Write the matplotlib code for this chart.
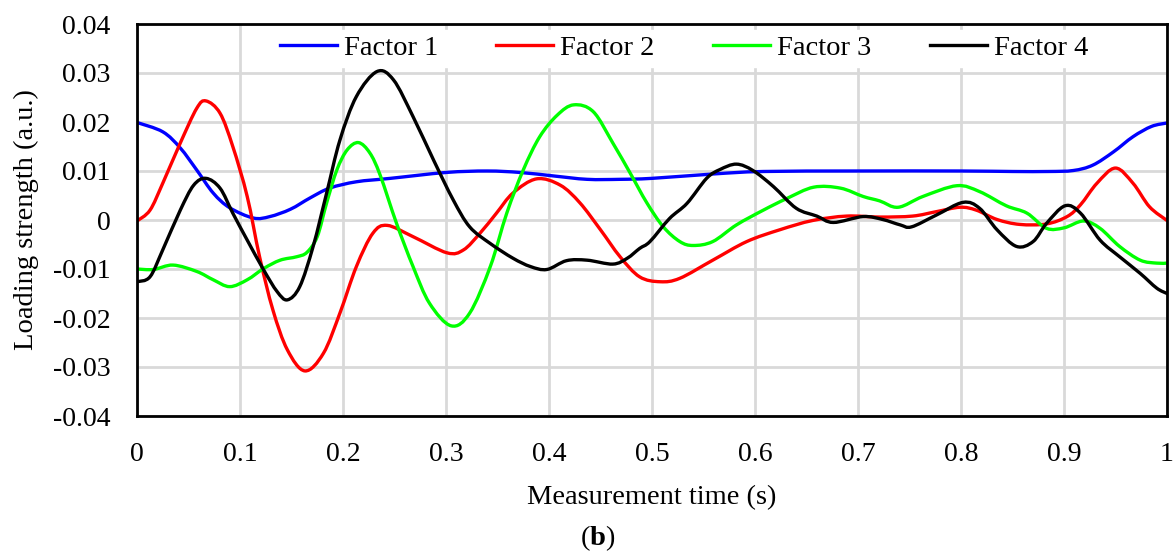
import matplotlib
matplotlib.use("Agg")
import matplotlib.pyplot as plt
from matplotlib.path import Path
from matplotlib.patches import PathPatch
from matplotlib.lines import Line2D
import numpy as np

plt.rcParams['font.family'] = ['Liberation Serif', 'DejaVu Serif']
plt.rcParams['mathtext.fontset'] = 'custom'
plt.rcParams['mathtext.rm'] = 'Liberation Serif'
plt.rcParams['mathtext.bf'] = 'Liberation Serif:bold'

# Factor 1 (blue)
x1 = [0.0, 0.025, 0.042, 0.058, 0.074, 0.090, 0.113, 0.129, 0.149, 0.168, 0.187, 0.213, 0.246,
      0.30, 0.34, 0.372, 0.404, 0.437, 0.469, 0.50, 0.56, 0.608, 0.70, 0.80, 0.85, 0.885, 0.909,
      0.928, 0.948, 0.967, 0.985, 1.0]
y1 = [0.0199, 0.0180, 0.0147, 0.0102, 0.0055, 0.0025, 0.0004, 0.0007, 0.0022, 0.0045, 0.0065,
      0.0078, 0.0085, 0.0097, 0.0100, 0.0097, 0.0090, 0.0083, 0.0083, 0.0085, 0.0094, 0.0099,
      0.0100, 0.0100, 0.0099, 0.0099, 0.0101, 0.0112, 0.0139, 0.0170, 0.0191, 0.0198]

# Factor 2 (red)
x2 = [0.0, 0.0126, 0.025, 0.042, 0.058, 0.067, 0.0806, 0.093, 0.107, 0.119, 0.132, 0.146, 0.163,
      0.181, 0.197, 0.213, 0.229, 0.243, 0.268, 0.301, 0.317, 0.333, 0.349, 0.365, 0.388, 0.411,
      0.430, 0.45, 0.469, 0.488, 0.508, 0.527, 0.559, 0.592, 0.624, 0.656, 0.689, 0.721, 0.753,
      0.776, 0.799, 0.815, 0.835, 0.857, 0.883, 0.903, 0.916, 0.932, 0.95, 0.967, 0.983, 1.0]
y2 = [-0.0002, 0.0020, 0.0075, 0.0157, 0.0228, 0.0243, 0.0218, 0.0150, 0.0048, -0.0075, -0.0184,
      -0.0265, -0.0308, -0.0272, -0.0190, -0.0095, -0.0027, -0.0011, -0.0034, -0.0067, -0.0061,
      -0.0027, 0.0014, 0.0055, 0.0084, 0.0071, 0.0035, -0.0020, -0.0075, -0.0116, -0.0126,
      -0.0119, -0.0082, -0.0044, -0.0020, -0.0001, 0.0008, 0.0006, 0.0008, 0.0017, 0.0026,
      0.0020, 0.0001, -0.0009, -0.0008, 0.0007, 0.0031, 0.0075, 0.0106, 0.0075, 0.0027, -0.0001]

# Factor 3 (green)
x3 = [0.0, 0.016, 0.035, 0.058, 0.074, 0.090, 0.107, 0.123, 0.139, 0.155, 0.165, 0.175, 0.184,
      0.194, 0.204, 0.215, 0.226, 0.236, 0.252, 0.268, 0.284, 0.305, 0.323, 0.343, 0.359, 0.375,
      0.391, 0.408, 0.424, 0.443, 0.462, 0.479, 0.495, 0.511, 0.527, 0.54, 0.559, 0.582, 0.608,
      0.631, 0.657, 0.683, 0.705, 0.721, 0.739, 0.763, 0.796, 0.818, 0.844, 0.864, 0.883, 0.90,
      0.919, 0.935, 0.954, 0.974, 0.99, 1.0]
y3 = [-0.0100, -0.0101, -0.0092, -0.0105, -0.0122, -0.0136, -0.0122, -0.0099, -0.0082, -0.0075,
      -0.0066, -0.0034, 0.0034, 0.0102, 0.0143, 0.0158, 0.0137, 0.0092, -0.0007, -0.0095,
      -0.0170, -0.0216, -0.0190, -0.0095, 0.0014, 0.0102, 0.0170, 0.0214, 0.0235, 0.0221,
      0.0157, 0.0095, 0.0035, -0.0014, -0.0044, -0.0052, -0.0044, -0.0010, 0.0020, 0.0044,
      0.0067, 0.0065, 0.0048, 0.0039, 0.0026, 0.0048, 0.0070, 0.0058, 0.0029, 0.0014, -0.0017,
      -0.0016, -0.0002, -0.0017, -0.0054, -0.0082, -0.0088, -0.0088]

# Factor 4 (black)
x4 = [0.0, 0.0126, 0.025, 0.042, 0.055, 0.067, 0.0806, 0.093, 0.107, 0.123, 0.136, 0.146, 0.158,
      0.171, 0.184, 0.197, 0.213, 0.233, 0.249, 0.268, 0.288, 0.307, 0.323, 0.343, 0.365, 0.382,
      0.398, 0.417, 0.437, 0.462, 0.476, 0.488, 0.498, 0.517, 0.534, 0.553, 0.566, 0.582, 0.598,
      0.618, 0.64, 0.66, 0.676, 0.705, 0.724, 0.741, 0.752, 0.776, 0.802, 0.818, 0.835, 0.854,
      0.87, 0.883, 0.901, 0.916, 0.935, 0.954, 0.974, 0.99, 1.0]
y4 = [-0.0126, -0.0116, -0.0061, 0.0020, 0.0071, 0.0085, 0.0065, 0.0014, -0.0041, -0.0102,
      -0.0146, -0.0163, -0.0136, -0.0054, 0.0054, 0.0163, 0.0252, 0.0303, 0.0286, 0.0211,
      0.0122, 0.0041, -0.0014, -0.0048, -0.0078, -0.0095, -0.0101, -0.0083, -0.0082, -0.0090,
      -0.0078, -0.0058, -0.0044, 0.0003, 0.0034, 0.0085, 0.0103, 0.0114, 0.0101, 0.0068, 0.0024,
      0.0008, -0.0005, 0.0007, 0.0001, -0.0010, -0.0014, 0.0010, 0.0036, 0.0024, -0.0020,
      -0.0054, -0.0044, -0.0007, 0.0029, 0.0014, -0.0041, -0.0075, -0.0109, -0.0139, -0.0150]

labels = ['Factor 1', 'Factor 2', 'Factor 3', 'Factor 4']
colors = ['#0000ff', '#ff0000', '#00ff00', '#000000']

xticks = [0, 0.1, 0.2, 0.3, 0.4, 0.5, 0.6, 0.7, 0.8, 0.9, 1.0]
xticklabels = ['0', '0.1', '0.2', '0.3', '0.4', '0.5', '0.6', '0.7', '0.8', '0.9', '1']
yticks = [-0.04, -0.03, -0.02, -0.01, 0, 0.01, 0.02, 0.03, 0.04]
yticklabels = ['-0.04', '-0.03', '-0.02', '-0.01', '0', '0.01', '0.02', '0.03', '0.04']


def smooth_path(xs, ys):
    """Excel-style smoothed line: cubic Bezier segments through the data points."""
    p = np.column_stack([xs, ys]).astype(float)
    n = len(p)
    verts = [p[0]]
    codes = [Path.MOVETO]
    for i in range(n - 1):
        p0 = p[i - 1] if i > 0 else p[i]
        p1 = p[i]
        p2 = p[i + 1]
        p3 = p[i + 2] if i + 2 < n else p[i + 1]
        c1 = p1 + (p2 - p0) / 6.0
        c2 = p2 - (p3 - p1) / 6.0
        verts += [c1, c2, p2]
        codes += [Path.CURVE4, Path.CURVE4, Path.CURVE4]
    return Path(verts, codes)


fig = plt.figure(figsize=(11.76, 5.56), dpi=100)
ax = fig.add_axes([137/1176, 1 - 416/556, 1030/1176, 392/556])

handles = []
for xs, ys, lab, c in zip([x1, x2, x3, x4], [y1, y2, y3, y4], labels, colors):
    patch = PathPatch(smooth_path(xs, ys), facecolor='none', edgecolor=c, lw=2.4,
                      capstyle='round', joinstyle='round', zorder=3)
    ax.add_patch(patch)
    handles.append(Line2D([], [], color=c, lw=2.4, label=lab))

ax.set_xlim(0, 1)
ax.set_ylim(-0.04, 0.04)
ax.set_xticks(xticks)
ax.set_xticklabels(xticklabels)
ax.set_yticks(yticks)
ax.set_yticklabels(yticklabels)
ax.tick_params(axis='both', length=0, labelsize=20)
ax.tick_params(axis='x', pad=19)
ax.tick_params(axis='y', pad=19)
ax.grid(True, color='#d9d9d9', lw=2)
ax.set_axisbelow(True)
for s in ax.spines.values():
    s.set_linewidth(2)
    s.set_color('black')
    s.set_zorder(5)

ax.set_xlabel('Measurement time (s)', fontsize=20.5, labelpad=13)
ax.set_ylabel('Loading strength (a.u.)', fontsize=20.5, labelpad=10)

leg = ax.legend(handles=handles, loc='center', bbox_to_anchor=((684 - 137) / 1030, 0.938),
                ncol=4, frameon=True, fontsize=20.5, handlelength=2.0, columnspacing=2.05,
                handletextpad=0.25, borderpad=0.2, fancybox=False)
leg.get_frame().set_edgecolor('white')
leg.get_frame().set_facecolor('white')
leg.get_frame().set_alpha(1)
leg.set_zorder(4)

fig.text(598/1176, 1 - 538/556, r'($\mathbf{b}$)', ha='center', va='center', fontsize=20.5)

fig.savefig('out.png', dpi=100)
